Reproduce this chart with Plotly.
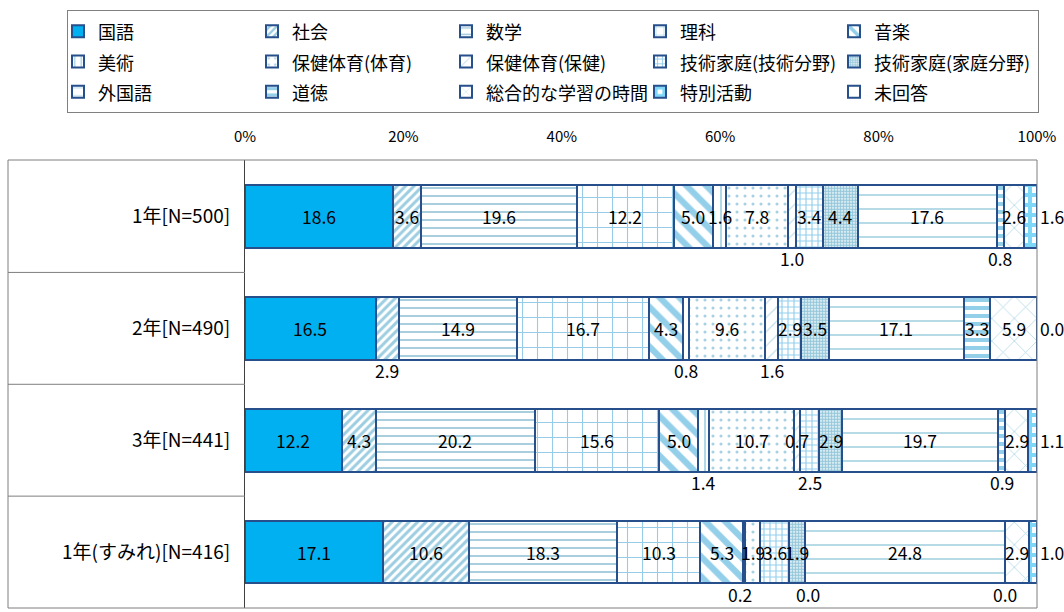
import plotly.graph_objects as go

# 学年ごとのデータ（%）
categories = ['1年[N=500]', '2年[N=490]', '3年[N=441]', '1年(すみれ)[N=416]']

subjects = ['国語', '社会', '数学', '理科', '音楽',
            '美術', '保健体育(体育)', '保健体育(保健)', '技術家庭(技術分野)', '技術家庭(家庭分野)',
            '外国語', '道徳', '総合的な学習の時間', '特別活動', '未回答']

kokugo = [18.6, 16.5, 12.2, 17.1]
shakai = [3.6, 2.9, 4.3, 10.6]
sugaku = [19.6, 14.9, 20.2, 18.3]
rika = [12.2, 16.7, 15.6, 10.3]
ongaku = [5.0, 4.3, 5.0, 5.3]
bijutsu = [1.6, 0.8, 1.4, 0.2]
taiiku = [7.8, 9.6, 10.7, 1.9]
hoken = [1.0, 1.6, 0.7, 0.0]
gijutsu = [3.4, 2.9, 2.5, 3.6]
katei = [4.4, 3.5, 2.9, 1.9]
gaikokugo = [17.6, 17.1, 19.7, 24.8]
dotoku = [0.8, 3.3, 0.9, 0.0]
sogo = [2.6, 5.9, 2.9, 2.9]
tokkatsu = [1.6, 0.0, 1.1, 1.0]
mikaito = [None, None, None, None]

series = [kokugo, shakai, sugaku, rika, ongaku, bijutsu, taiiku, hoken,
          gijutsu, katei, gaikokugo, dotoku, sogo, tokkatsu, mikaito]

# 塗りパターン（Excel風）
patterns = [
    dict(shape='', color='#00B0F0'),
    dict(shape='/', size=6, solidity=0.5, fg='#3A9CC2'),
    dict(shape='-', size=8, solidity=0.22, fg='#3A92B5'),
    dict(shape='+', size=15, solidity=0.14, fg='#2E9AD0'),
    dict(shape='\\', size=14, solidity=0.45, fg='#2A9FD6'),
    dict(shape='|', size=8, solidity=0.2, fg='#3A9CC2'),
    dict(shape='.', size=8, solidity=0.12, fg='#4FA4C4'),
    dict(shape='/', size=10, solidity=0.12, fg='#8CBFD2'),
    dict(shape='+', size=6, solidity=0.35, fg='#2A9FD6'),
    dict(shape='.', size=3, solidity=0.7, fg='#2C8FB5'),
    dict(shape='-', size=14, solidity=0.12, fg='#4FA6C3'),
    dict(shape='-', size=8, solidity=0.5, fg='#2A9FD6'),
    dict(shape='x', size=16, solidity=0.1, fg='#66B2CC'),
    dict(shape='+', size=10, solidity=0.65, fg='#00B0F0'),
    dict(shape='', color='white'),
]

# バーの下に出すラベル (行, 科目) -> xshift
below = {(0, 7): 0, (0, 11): 0,
         (1, 1): 0, (1, 5): 0, (1, 7): 0,
         (2, 5): 0, (2, 8): 0, (2, 11): 0,
         (3, 5): -4, (3, 7): 48, (3, 11): 0}
right_idx = 13

font = 'Noto Sans CJK JP'
fig = go.Figure()

for j, (name, vals, p) in enumerate(zip(subjects, series, patterns)):
    if p['shape'] == '':
        marker = dict(color=p['color'])
    else:
        marker = dict(color='white',
                      pattern=dict(shape=p['shape'], size=p['size'], solidity=p['solidity'],
                                   fgcolor=p['fg'], bgcolor='white', fillmode='overlay'))
    marker['line'] = dict(color='#264F8C', width=2)
    fig.add_trace(go.Bar(
        y=categories, x=vals, orientation='h', marker=marker,
        name=f'<span style="font-size:18px">{name}</span>',
        hovertemplate=name + ': %{x:.1f}<extra></extra>',
    ))

# 値ラベル（正規化後の位置で配置、バーより前面に）
lbl_font = dict(size=17.5, color='black', family=font)
annotations = []
for i in range(len(categories)):
    total = sum(s[i] for s in series if s[i] is not None)
    cum = 0
    for j, s in enumerate(series):
        v = s[i]
        if v is None:
            continue
        center = (cum + v / 2) / total * 100
        a = dict(x=center, y=categories[i], xref='x', yref='y', text=f'{v:.1f}',
                 showarrow=False, font=lbl_font)
        if (i, j) in below:
            a.update(yshift=-42, xshift=below[(i, j)])
        elif j == right_idx:
            a.update(x=100, xanchor='left', xshift=1)
        annotations.append(a)
        cum += v

# 枠線
L, T, PW, PH = 245, 160, 792, 448
x_left = (8 - L) / PW
shapes = [dict(type='rect', xref='paper', yref='paper', x0=x_left, x1=1, y0=0, y1=1,
               line=dict(color='#7F7F7F', width=1))]
for k in range(len(categories) - 1):
    shapes.append(dict(type='line', xref='paper', yref='y', x0=x_left, x1=0,
                       y0=k + 0.5, y1=k + 0.5, line=dict(color='#7F7F7F', width=1)))

W, H = 1064, 612
fig.update_layout(
    barmode='stack', barnorm='percent', bargap=0.44,
    width=W, height=H,
    margin=dict(l=L, r=W - L - PW, t=T, b=H - T - PH, autoexpand=False),
    paper_bgcolor='white', plot_bgcolor='white',
    font=dict(family=font, size=16, color='black'),
    annotations=annotations, shapes=shapes,
    legend=dict(orientation='h', xref='paper', yref='paper',
                x=(67 - L) / PW, y=1 + (T - 10) / PH, xanchor='left', yanchor='top',
                entrywidth=159, entrywidthmode='pixels', itemwidth=30,
                indentation=-10, traceorder='normal',
                font=dict(size=21, family=font),
                bordercolor='#808080', borderwidth=1, bgcolor='white'),
    xaxis=dict(side='top', range=[0, 100], dtick=20, ticksuffix='%',
               showgrid=False, zeroline=False, showline=False,
               tickfont=dict(size=15), ticklabelstandoff=14),
    yaxis=dict(autorange='reversed', showgrid=False, showline=True,
               linecolor='#404040', linewidth=1, tickfont=dict(size=19),
               ticklabelstandoff=10),
)

# ページ余白をなくして図を左上に合わせる
fig.write_html('out.html', config={'displayModeBar': False},
               post_script="document.body.style.margin='0';document.body.style.overflow='hidden';")
